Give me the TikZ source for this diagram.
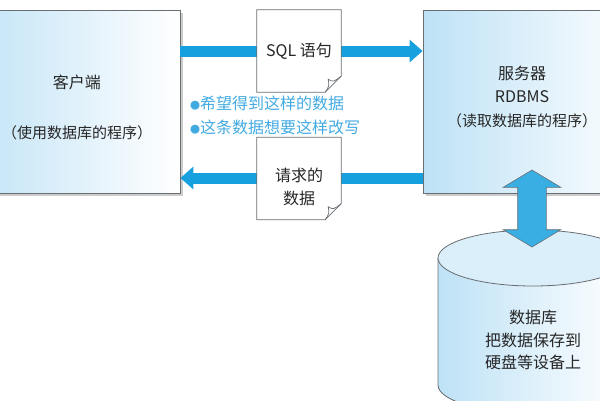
\documentclass[tikz,border=0pt]{standalone}
\usepackage{fontspec}
\setmainfont{Noto Sans CJK SC}
\usetikzlibrary{arrows.meta,shapes.arrows,shadows}

\definecolor{flowblue}{RGB}{22,160,222}
\definecolor{noteblue}{RGB}{66,170,226}
\definecolor{boxblue}{RGB}{190,226,246}
\definecolor{edgegray}{RGB}{105,110,115}

\tikzset{
  every node/.style={font=\fontsize{16}{23}\selectfont, text=black!85},
  box/.style={draw=edgegray, line width=0.8pt, left color=boxblue, right color=white,
    inner sep=0pt, minimum width=220pt, minimum height=183pt,
    drop shadow={shadow xshift=2.5pt, shadow yshift=-2.5pt, fill=black!40, opacity=0.5}},
  boxtext/.style={align=center, inner sep=0pt},
  doc/.style={fill=white, minimum width=84pt, minimum height=82pt, inner sep=0pt, align=center},
  note/.style={anchor=west, text=noteblue, inner sep=0pt},
  flow/.style={line width=11pt, draw=flowblue, -{Triangle[length=13pt,width=22pt]}},
  dbarrow/.style={double arrow, draw=edgegray, line width=0.6pt, fill=flowblue!85,
    rotate=90, minimum height=77pt, minimum width=57pt, text height=28pt, text depth=0pt,
    double arrow head extend=14.5pt, double arrow tip angle=118, inner sep=0pt},
}

% outline of a sheet with a folded corner
\newcommand\sheet[1]{
  \draw[edgegray, line width=0.7pt] (#1.north west) -- (#1.north east)
    -- ([yshift=16pt]#1.south east) -- ([xshift=-16pt]#1.south east)
    -- (#1.south west) -- cycle;
  \draw[edgegray, line width=0.7pt] ([yshift=16pt]#1.south east)
    .. controls ([xshift=-8pt,yshift=10pt]#1.south east) .. ([xshift=-13pt,yshift=13pt]#1.south east)
    .. controls ([xshift=-12pt,yshift=6pt]#1.south east) .. ([xshift=-16pt]#1.south east);
}

\begin{document}
\begin{tikzpicture}[x=1pt, y=-1pt]
  \useasboundingbox (0,0) rectangle (600,400);
  \clip (0,0) rectangle (600,400);

  % client and server
  \node[box] (client) at (70,101.5) {};
  \node[boxtext] (clienttext) at (77,107) {客户端\\[27pt]{\fontsize{15}{23}\selectfont （使用数据库的程序）}};
  \node[box] (server) at (533,101.5) {};
  \node[boxtext, font=\fontsize{16}{23.5}\selectfont] (servertext) at (522,96.5)
    {服务器\\RDBMS\\{\fontsize{15}{23.5}\selectfont （读取数据库的程序）}};

  % database
  \fill[left color=boxblue, right color=white]
    (438,258) -- (438,385) arc[start angle=180, end angle=0, x radius=95, y radius=28]
    -- (628,258) arc[start angle=0, end angle=180, x radius=95, y radius=28] -- cycle;
  \draw[edgegray, line width=0.8pt] (438,258) -- (438,385) arc[start angle=180, end angle=0, x radius=95, y radius=28] -- (628,258);
  \draw[edgegray, line width=0.8pt, fill=boxblue!55] (533,258) ellipse[x radius=95, y radius=28];
  \node[boxtext, font=\fontsize{16}{22.5}\selectfont] (db) at (533,340)
    {数据库\\把数据保存到\\硬盘等设备上};

  % documents on the arrows
  \draw[flow] (client.east |- 0,51) -- (server.west |- 0,51);
  \draw[flow] (server.west |- 0,178) -- (client.east |- 0,178);
  \node[doc] (sqldoc) at (299,51) {SQL 语句};
  \node[doc] (datadoc) at (299,178.5) {};
  \node[boxtext] (datatext) at (299,187) {请求的\\数据};
  \sheet{sqldoc}
  \sheet{datadoc}

  % notes
  \node[note] (wish) at (190,103) {{\fontsize{10}{10}\selectfont ●}希望得到这样的数据};
  \node[note] (rewrite) at (190,127) {{\fontsize{10}{10}\selectfont ●}这条数据想要这样改写};

  % server <-> database
  \node[dbarrow] (link) at (532,208.5) {};
\end{tikzpicture}
\end{document}
